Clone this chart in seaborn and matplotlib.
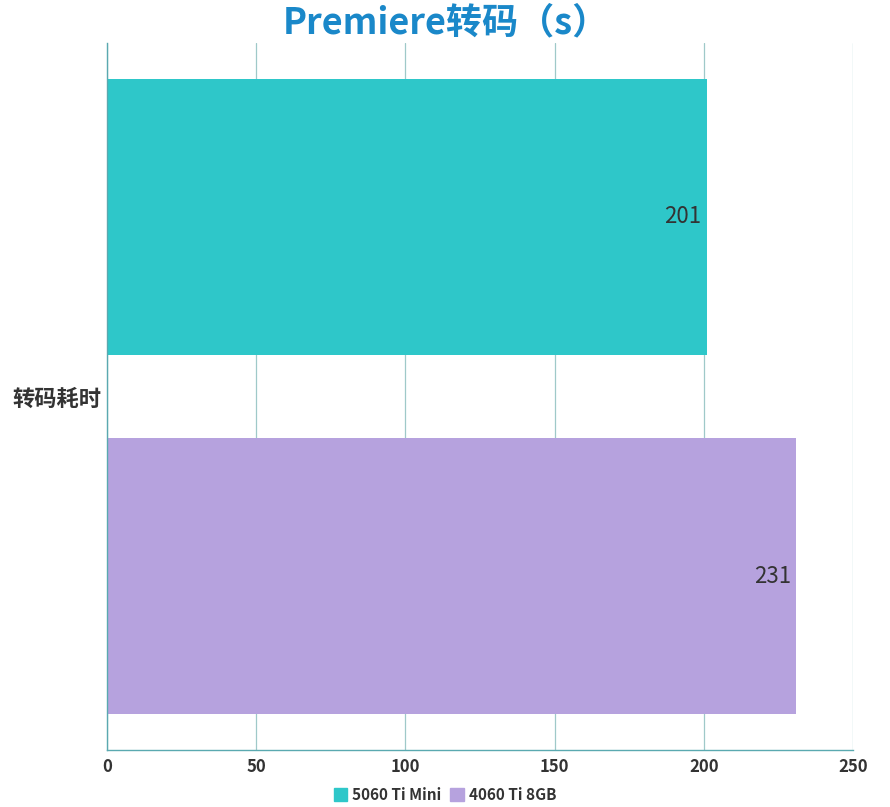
import matplotlib
matplotlib.use("Agg")
import matplotlib.pyplot as plt
import seaborn as sns
import pandas as pd

categories = ["转码耗时"]
devices = ["5060 Ti Mini", "4060 Ti 8GB"]
seconds = [201, 231]
colors = ["#2EC7C9", "#B6A2DE"]
title = "Premiere转码（s）"

sns.set_theme(style="white")
plt.rcParams["font.family"] = ["Noto Sans CJK SC", "DejaVu Sans"]

df = pd.DataFrame({"cat": categories * len(devices), "device": devices, "time": seconds})

fig = plt.figure(figsize=(8.9, 8.07), dpi=100)
ax = fig.add_axes([0.1202, 0.0706, 0.8382, 0.876])

sns.barplot(data=df, x="time", y="cat", hue="device", palette=colors,
            orient="h", width=0.8, gap=0.233, saturation=1, ax=ax, legend=False,
            edgecolor="none")

ax.set_xlim(0, 250)
ax.set_ylim(0.393, -0.393)
ax.set_xticks([0, 50, 100, 150, 200, 250])
ax.grid(axis="x", color="#9fc9c9", linewidth=0.9)
ax.set_axisbelow(True)
ax.set_xlabel("")
ax.set_ylabel("")

for s in ["top", "right"]:
    ax.spines[s].set_visible(False)
ax.spines["left"].set_color("#5aa9b0")
ax.spines["bottom"].set_color("#5aa9b0")
ax.spines["left"].set_linewidth(1)
ax.spines["bottom"].set_linewidth(1)

ax.tick_params(axis="x", length=0, pad=6, labelsize=12, colors="#333333")
ax.tick_params(axis="y", length=0, pad=4, labelsize=16, colors="#333333")
for lbl in ax.get_xticklabels() + ax.get_yticklabels():
    lbl.set_fontweight("bold")

for cont in ax.containers:
    texts = ax.bar_label(cont, labels=[f"{v:g}" for v in cont.datavalues],
                         label_type="edge", padding=-4, fontsize=16, color="#333333")
    for t in texts:
        t.set_ha("right")

fig.text(0.501, 0.972, title, ha="center", va="center", fontsize=26,
         fontweight="bold", color="#1a88c9")

handles = [plt.Rectangle((0, 0), 1, 1, color=c) for c in colors]
fig.legend(handles, devices, loc="center", bbox_to_anchor=(0.5, 0.015), ncol=2,
           frameon=False, handlelength=0.9, handleheight=0.9, handletextpad=0.3,
           columnspacing=0.6, prop={"weight": "bold", "size": 11})
for t in fig.legends[0].get_texts():
    t.set_color("#333333")

fig.savefig("out.png", dpi=100)
